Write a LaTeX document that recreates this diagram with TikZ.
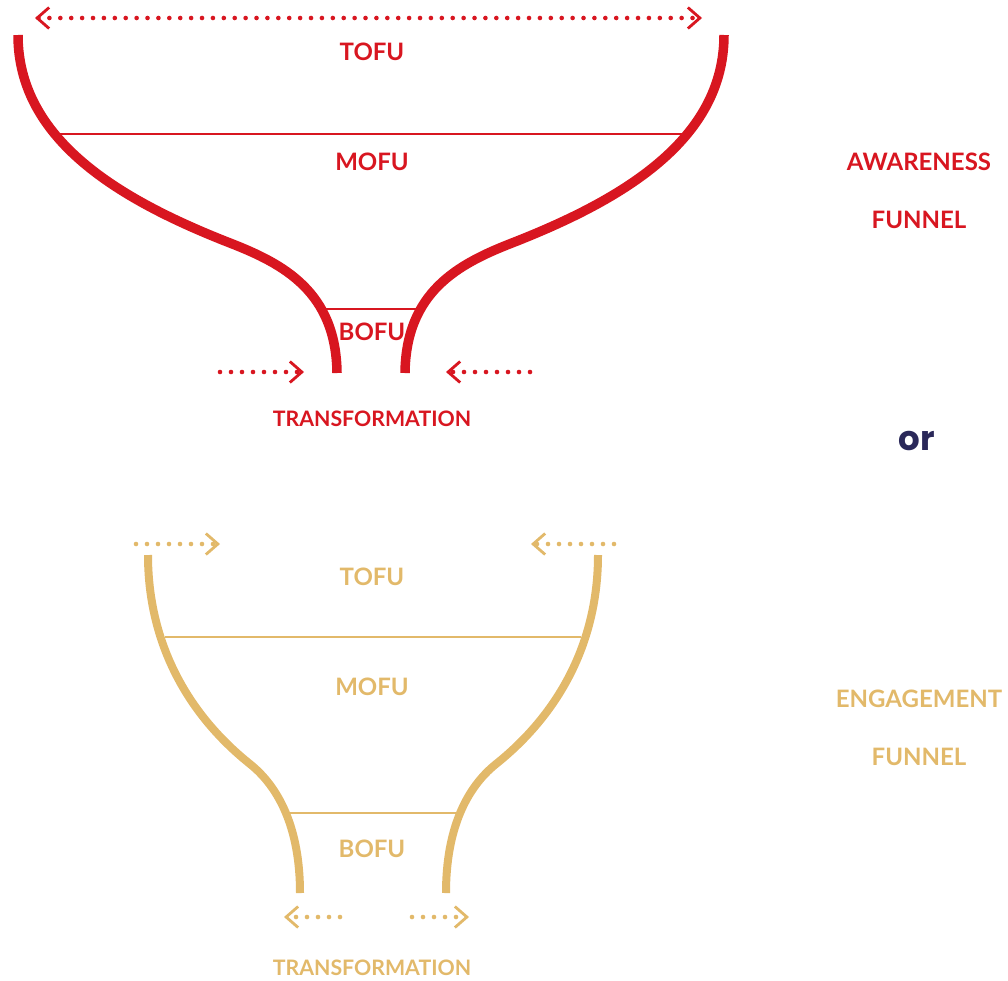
\documentclass[tikz,border=0pt]{standalone}
\usepackage{fontspec}
\setmainfont{Lato}
\newfontfamily\orfont{Poppins}
\usetikzlibrary{arrows.meta}
\definecolor{fred}{RGB}{216,22,32}
\definecolor{fgold}{RGB}{226,185,106}
\definecolor{fnavy}{RGB}{42,40,89}
\tikzset{
  lbl/.style={font=\fontsize{24}{24}\selectfont\bfseries, inner sep=0pt},
  sublbl/.style={font=\fontsize{21.3}{21.3}\selectfont\bfseries, inner sep=0pt},
  sidelbl/.style={font=\fontsize{24}{24}\selectfont\bfseries, inner sep=0pt},
  redline/.style={line width=9.5pt},
  goldline/.style={line width=8pt},
  sepline/.style={line width=1.6pt},
  chev/.tip={Straight Barb[length=12pt,width=21pt,line width=2.8pt]},
  dotarrow/.style={line width=4.6pt, line cap=round, dash pattern=on 0pt off 11pt, -chev},
  dotarrows/.style={line width=4.6pt, line cap=round, dash pattern=on 0pt off 10.9pt, chev-chev},
}
\begin{document}
\begin{tikzpicture}[x=1pt,y=-1pt]
\useasboundingbox (0,0) rectangle (1008,980);
% ---------- red awareness funnel ----------
\begin{scope}[color=fred]
\coordinate (ta1) at (35,18);
\coordinate (ta2) at (702,18);
\draw[dotarrows] (ta1) -- (ta2);
\coordinate (rlt) at (18,35);
\coordinate (rlm) at (230,243);
\coordinate (rlb) at (337,373);
\coordinate (rrt) at (724,35);
\coordinate (rrm) at (512,243);
\coordinate (rrb) at (405,373);
\draw[redline] (rlt) .. controls (18,140) and (120,200) .. (rlm)
               .. controls (284,264) and (336,292) .. (rlb);
\draw[redline] (rrt) .. controls (724,140) and (622,200) .. (rrm)
               .. controls (458,264) and (406,292) .. (rrb);
\coordinate (rm1) at (57,134);
\coordinate (rm2) at (685,134);
\draw[sepline] (rm1) -- (rm2);
\coordinate (rb1) at (326,309);
\coordinate (rb2) at (416,309);
\draw[sepline] (rb1) -- (rb2);
\node[lbl] (rtofu) at (372,52) {TOFU};
\node[lbl] (rmofu) at (372,162) {MOFU};
\node[lbl] (rbofu) at (372,332) {BOFU};
\coordinate (rl1) at (220,372);
\coordinate (rl2) at (304,372);
\draw[dotarrow] (rl1) -- (rl2);
\coordinate (rr1) at (530,372);
\coordinate (rr2) at (446,372);
\draw[dotarrow] (rr1) -- (rr2);
\node[sublbl] (rtrans) at (372,419) {TRANSFORMATION};
\node[sidelbl] (aware) at (919,162) {AWARENESS};
\node[sidelbl] (rfun) at (919,220) {FUNNEL};
\end{scope}
% ---------- or ----------
\node[font=\orfont\fontsize{34}{34}\selectfont\bfseries, text=fnavy, inner sep=0pt] (or) at (917,441) {or};
% ---------- gold engagement funnel ----------
\begin{scope}[color=fgold]
\coordinate (gl1) at (136,544);
\coordinate (gl2) at (220,544);
\draw[dotarrow] (gl1) -- (gl2);
\coordinate (gr1) at (614,544);
\coordinate (gr2) at (531,544);
\draw[dotarrow] (gr1) -- (gr2);
\coordinate (glt) at (148,555);
\coordinate (glm) at (250,764);
\coordinate (glb) at (300,893);
\coordinate (grt) at (598,555);
\coordinate (grm) at (496,764);
\coordinate (grb) at (446,893);
\draw[goldline] (glt) .. controls (148,640) and (185,712) .. (glm)
                .. controls (280,788) and (300,830) .. (glb);
\draw[goldline] (grt) .. controls (598,640) and (561,712) .. (grm)
                .. controls (466,788) and (446,830) .. (grb);
\coordinate (gm1) at (165,637);
\coordinate (gm2) at (581,637);
\draw[sepline] (gm1) -- (gm2);
\coordinate (gb1) at (288,813);
\coordinate (gb2) at (458,813);
\draw[sepline] (gb1) -- (gb2);
\node[lbl] (gtofu) at (372,577) {TOFU};
\node[lbl] (gmofu) at (372,687) {MOFU};
\node[lbl] (gbofu) at (372,849) {BOFU};
\coordinate (gd1) at (340,917);
\coordinate (gd2) at (284,917);
\draw[dotarrow] (gd1) -- (gd2);
\coordinate (ge1) at (412,917);
\coordinate (ge2) at (469,917);
\draw[dotarrow] (ge1) -- (ge2);
\node[sublbl] (gtrans) at (372,968) {TRANSFORMATION};
\node[sidelbl] (engage) at (919,699) {ENGAGEMENT};
\node[sidelbl] (gfun) at (919,757) {FUNNEL};
\end{scope}
\end{tikzpicture}
\end{document}
